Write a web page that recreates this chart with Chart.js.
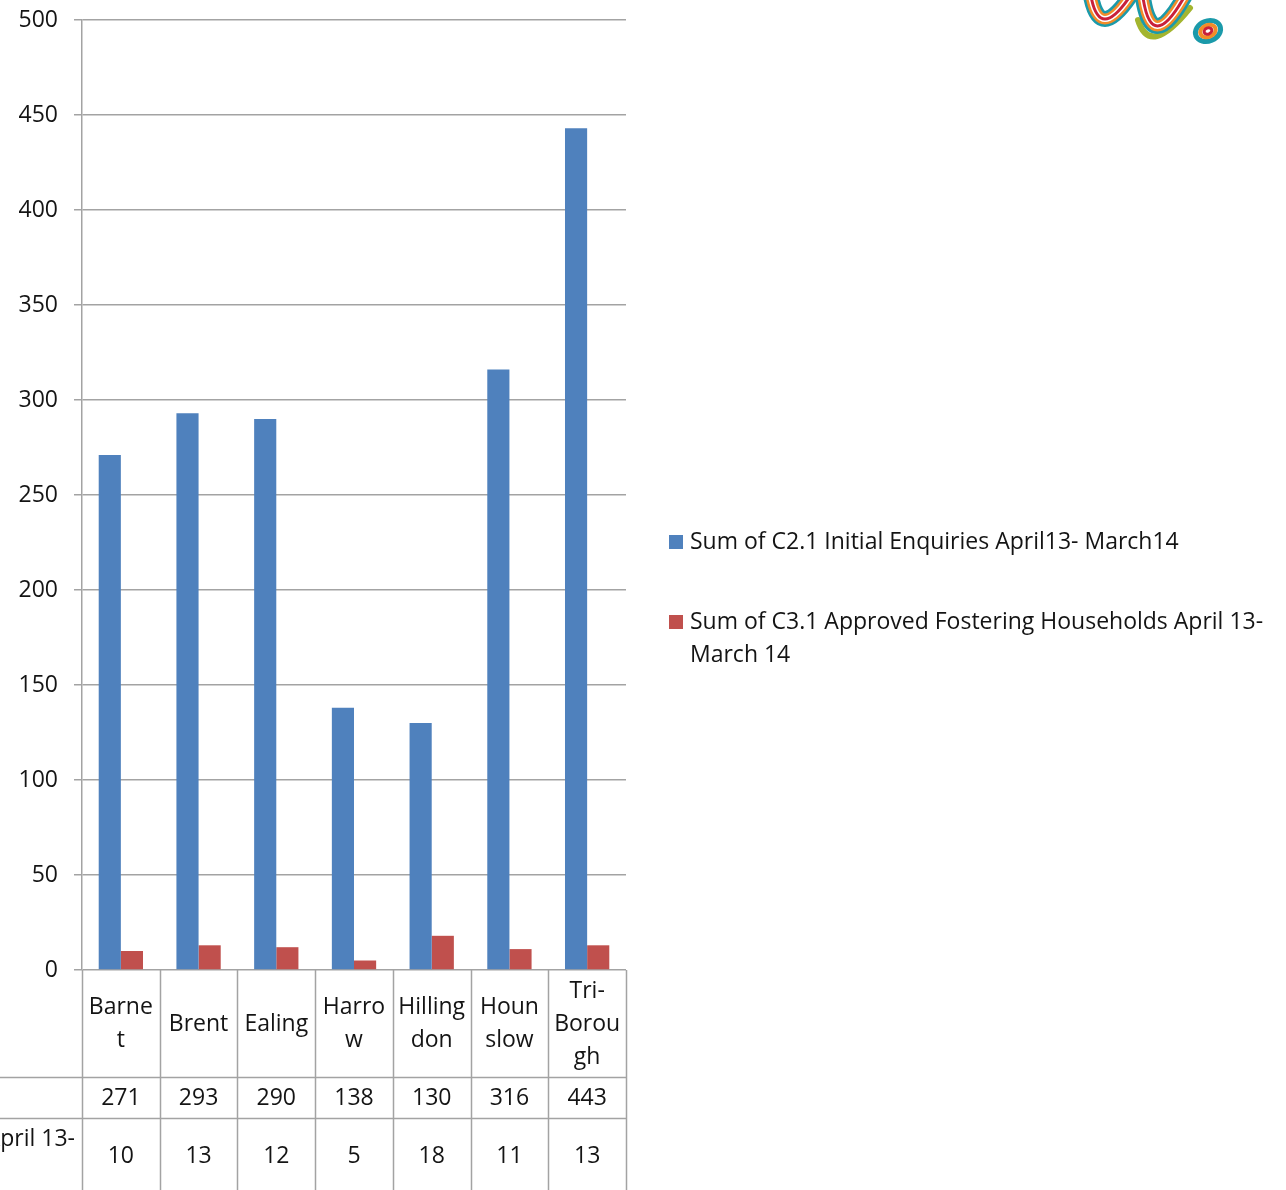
<!DOCTYPE html>
<html>
<head>
<meta charset="utf-8">
<script src="https://cdn.jsdelivr.net/npm/chart.js@4.4.1/dist/chart.umd.min.js"></script>
<style>
  html, body { margin: 0; padding: 0; background: #fff; }
  canvas { display: block; }
</style>
</head>
<body>
<canvas id="myChart" width="1286" height="1190"></canvas>
<script>
// datos del grafico
const boroughs = ['Barnet', 'Brent', 'Ealing', 'Harrow', 'Hillingdon', 'Hounslow', 'Tri-Borough'];
// etiquetas tal como salen partidas en la tabla
const boroughLines = [['Barne', 't'], ['Brent'], ['Ealing'], ['Harro', 'w'], ['Hilling', 'don'], ['Houn', 'slow'], ['Tri-', 'Borou', 'gh']];
const enquiries = [271, 293, 290, 138, 130, 316, 443];
const approved = [10, 13, 12, 5, 18, 11, 13];
const enquiriesLabel = 'Sum of C2.1 Initial Enquiries April13- March14';
const approvedLabel = 'Sum of C3.1 Approved Fostering Households April 13- March 14';
const approvedLabelLines = ['Sum of C3.1 Approved Fostering Households April 13-', 'March 14'];
const yTicks = [0, 50, 100, 150, 200, 250, 300, 350, 400, 450, 500];

const FONT = '"Open Sans", "Noto Sans", sans-serif';
const FSIZE = 23;
const TEXT = '#141414';
const GRID = '#a3a3a3';
const BLUE = '#4F81BD';
const RED = '#C0504D';

// logo de la esquina (solo decorativo)
function dibujarLogo(ctx) {
    ctx.save();
    ctx.lineCap = 'round';
    ctx.lineJoin = 'round';
    const capas = [['#1b9aaa', 16], ['#f28c28', 11], ['#ffffff', 6], ['#c9203a', 3]];
    const us = [
        { a: [1090, -10], c: [1098, 48], b: [1134, -10] },
        { a: [1142, -10], c: [1150, 62], b: [1188, -10] }
    ];
    // verde debajo de la segunda U
    ctx.strokeStyle = '#a3b52f';
    ctx.lineWidth = 6;
    ctx.beginPath();
    ctx.moveTo(1138, 20);
    ctx.quadraticCurveTo(1150, 58, 1190, 8);
    ctx.stroke();
    us.forEach(u => {
        capas.forEach(([col, w]) => {
            ctx.strokeStyle = col;
            ctx.lineWidth = w;
            ctx.beginPath();
            ctx.moveTo(u.a[0], u.a[1]);
            ctx.quadraticCurveTo(u.c[0], u.c[1], u.b[0], u.b[1]);
            ctx.stroke();
        });
    });
    // la "o"
    [['#1b9aaa', 5, 13, 10], ['#f28c28', 4, 8, 6], ['#c9203a', 3, 4, 3]].forEach(([col, w, rx, ry]) => {
        ctx.strokeStyle = col;
        ctx.lineWidth = w;
        ctx.beginPath();
        ctx.ellipse(1208, 31, rx, ry, -0.4, 0, Math.PI * 2);
        ctx.stroke();
    });
    ctx.restore();
}

// tabla de datos + leyenda
const tablaPlugin = {
    id: 'tabla',
    afterDraw(chart) {
        const ctx = chart.ctx;
        const area = chart.chartArea;
        const x = chart.scales.x;
        const n = boroughs.length;
        const step = (area.right - area.left) / n;
        const bottom = chart.height;
        const row1 = 1077, row2 = 1118;

        ctx.save();
        ctx.strokeStyle = GRID;
        ctx.lineWidth = 1.5;
        // lineas verticales
        for (let i = 0; i <= n; i++) {
            const px = Math.round(area.left + i * step) + 0.5;
            ctx.beginPath();
            ctx.moveTo(px, area.bottom);
            ctx.lineTo(px, bottom);
            ctx.stroke();
        }
        // lineas horizontales
        [row1, row2].forEach(y => {
            ctx.beginPath();
            ctx.moveTo(0, y + 0.5);
            ctx.lineTo(area.right, y + 0.5);
            ctx.stroke();
        });

        ctx.fillStyle = TEXT;
        ctx.font = FSIZE + 'px ' + FONT;
        ctx.textAlign = 'center';
        ctx.textBaseline = 'middle';
        const lh = 33;
        const midLabels = 1024;
        boroughLines.forEach((lines, i) => {
            const cx = x.getPixelForValue(i);
            const y0 = midLabels - (lines.length - 1) * lh / 2;
            lines.forEach((t, j) => ctx.fillText(t, cx, y0 + j * lh));
            ctx.fillText(String(enquiries[i]), cx, 1098);
            ctx.fillText(String(approved[i]), cx, 1156);
        });
        // etiqueta de fila cortada a la izquierda
        ctx.textAlign = 'right';
        ctx.fillText('Households April 13-', 75, 1139);

        // leyenda
        ctx.textAlign = 'left';
        ctx.fillStyle = BLUE;
        ctx.fillRect(669, 535, 14, 14);
        ctx.fillStyle = RED;
        ctx.fillRect(669, 615, 14, 14);
        ctx.fillStyle = TEXT;
        ctx.fillText(enquiriesLabel, 690, 542);
        approvedLabelLines.forEach((t, j) => ctx.fillText(t, 690, 622 + j * lh));
        ctx.restore();

        dibujarLogo(ctx);
    }
};

const ctx = document.getElementById('myChart').getContext('2d');
new Chart(ctx, {
    type: 'bar',
    data: {
        labels: boroughs,
        datasets: [
            { label: enquiriesLabel, data: enquiries, backgroundColor: BLUE },
            { label: approvedLabel, data: approved, backgroundColor: RED }
        ]
    },
    options: {
        responsive: false,
        animation: false,
        layout: { padding: { top: 20, right: 660, bottom: 220, left: 0 } },
        datasets: { bar: { categoryPercentage: 0.57, barPercentage: 1.0 } },
        plugins: {
            legend: { display: false },
            tooltip: { enabled: false }
        },
        scales: {
            x: { display: false },
            y: {
                min: 0,
                max: 500,
                afterFit: scale => {
                    scale.width = 82;
                    scale.paddingTop = 0;
                    scale.paddingBottom = 0;
                },
                afterBuildTicks: scale => { scale.ticks = yTicks.map(v => ({ value: v })); },
                grid: { color: GRID, lineWidth: 1.5, tickLength: 8 },
                border: { color: GRID, width: 1.5 },
                ticks: {
                    padding: 16,
                    color: TEXT,
                    font: { family: FONT, size: FSIZE }
                }
            }
        }
    },
    plugins: [tablaPlugin]
});
</script>
</body>
</html>
